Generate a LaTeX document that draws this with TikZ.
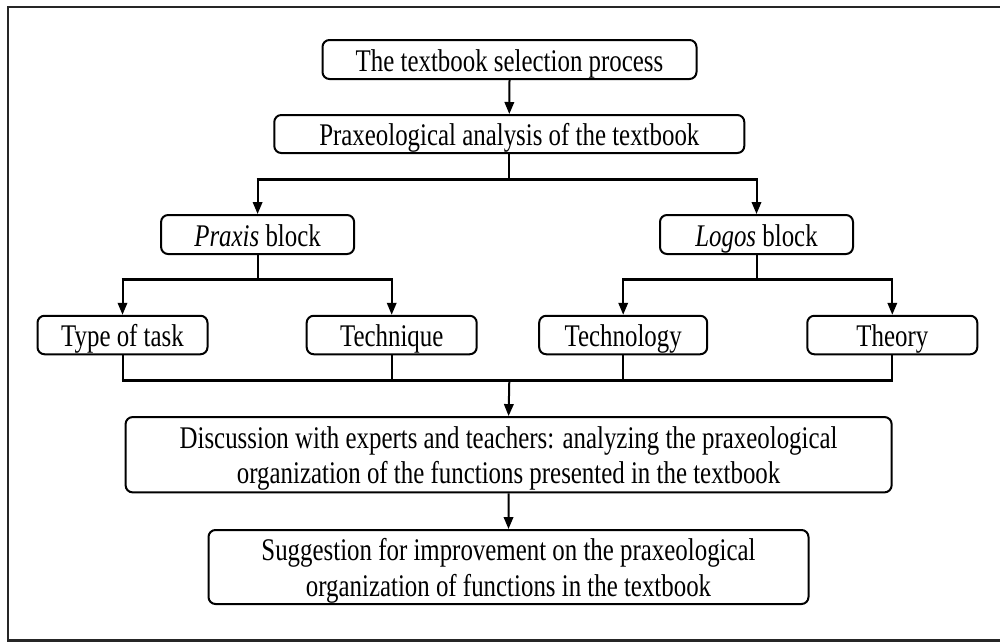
\documentclass[tikz,border=0pt]{standalone}
\usepackage{fontspec}
\setmainfont[FakeStretch=0.79]{Liberation Serif}
\usetikzlibrary{arrows.meta}
\newcommand{\oneline}[1]{\raisebox{-11.7pt}[0pt][0pt]{#1}}
\newcommand{\twolines}[2]{\raisebox{6.4pt}[0pt][0pt]{\begin{tabular}[t]{@{}c@{}}#1\\#2\end{tabular}}}
\begin{document}
\begin{tikzpicture}[x=1pt,y=-1pt,
  box/.style={draw=black, line width=2pt, rounded corners=7pt, inner sep=0pt,
    font=\fontsize{31.5}{35.5}\selectfont},
  conn/.style={line width=2pt},
  bus/.style={line width=3pt, line cap=butt},
  arr/.style={line width=2pt, -{Triangle[length=12pt,width=9.5pt]}}]
\clip (0,0) rectangle (1000,641);
\fill[white] (0,0) rectangle (1000,641);
\draw[line width=2.5pt, black!85] (8.2,7.2) rectangle (1010,640.3);

\node[box, minimum width=374pt, minimum height=39pt] (b1) at (509.5,59.5) {\oneline{The textbook selection process}};
\node[box, minimum width=470pt, minimum height=38pt] (b2) at (509.3,134) {\oneline{Praxeological analysis of the textbook}};
\node[box, minimum width=193pt, minimum height=39pt] (praxis) at (257.6,234.5) {\oneline{\textit{Praxis} block}};
\node[box, minimum width=193pt, minimum height=39pt] (logos) at (756.5,234.5) {\oneline{\textit{Logos} block}};
\node[box, minimum width=170pt, minimum height=38.5pt] (task) at (122.5,335) {\oneline{Type of task}};
\node[box, minimum width=170pt, minimum height=38.5pt] (tech) at (391.7,335) {\oneline{Technique}};
\node[box, minimum width=168pt, minimum height=38.5pt] (techno) at (623.2,335) {\oneline{Technology}};
\node[box, minimum width=170pt, minimum height=38.5pt] (theory) at (892.3,335) {\oneline{Theory}};
\node[box, minimum width=766pt, minimum height=75.3pt] (disc) at (508.6,454.7)
  {\twolines{Discussion with experts and teachers: analyzing the praxeological}{organization of the functions presented in the textbook}};
\node[box, minimum width=600pt, minimum height=74pt] (sugg) at (508.5,567)
  {\twolines{Suggestion for improvement on the praxeological}{organization of functions in the textbook}};

\coordinate (busA) at (509.3,179);
\coordinate (busB) at (257.6,279);
\coordinate (busC) at (509.3,380.5);

\draw[arr] (b1.south) -- (b2.north);

\draw[conn] (b2.south) -- (busA);
\draw[bus] ([xshift=-1pt]praxis.north |- busA) -- ([xshift=1pt]logos.north |- busA);
\draw[arr] (praxis.north |- busA) -- (praxis.north);
\draw[arr] (logos.north |- busA) -- (logos.north);

\draw[conn] (praxis.south) -- (praxis.south |- busB);
\draw[bus] ([xshift=-1pt]task.north |- busB) -- ([xshift=1pt]tech.north |- busB);
\draw[arr] (task.north |- busB) -- (task.north);
\draw[arr] (tech.north |- busB) -- (tech.north);

\draw[conn] (logos.south) -- (logos.south |- busB);
\draw[bus] ([xshift=-1pt]techno.north |- busB) -- ([xshift=1pt]theory.north |- busB);
\draw[arr] (techno.north |- busB) -- (techno.north);
\draw[arr] (theory.north |- busB) -- (theory.north);

\draw[conn] (task.south) -- (task.south |- busC);
\draw[conn] (tech.south) -- (tech.south |- busC);
\draw[conn] (techno.south) -- (techno.south |- busC);
\draw[conn] (theory.south) -- (theory.south |- busC);
\draw[bus] ([xshift=-1pt]task.south |- busC) -- ([xshift=1pt]theory.south |- busC);
\draw[arr] (busC) -- (disc.north);

\draw[arr] (disc.south) -- (sugg.north);
\end{tikzpicture}
\end{document}
